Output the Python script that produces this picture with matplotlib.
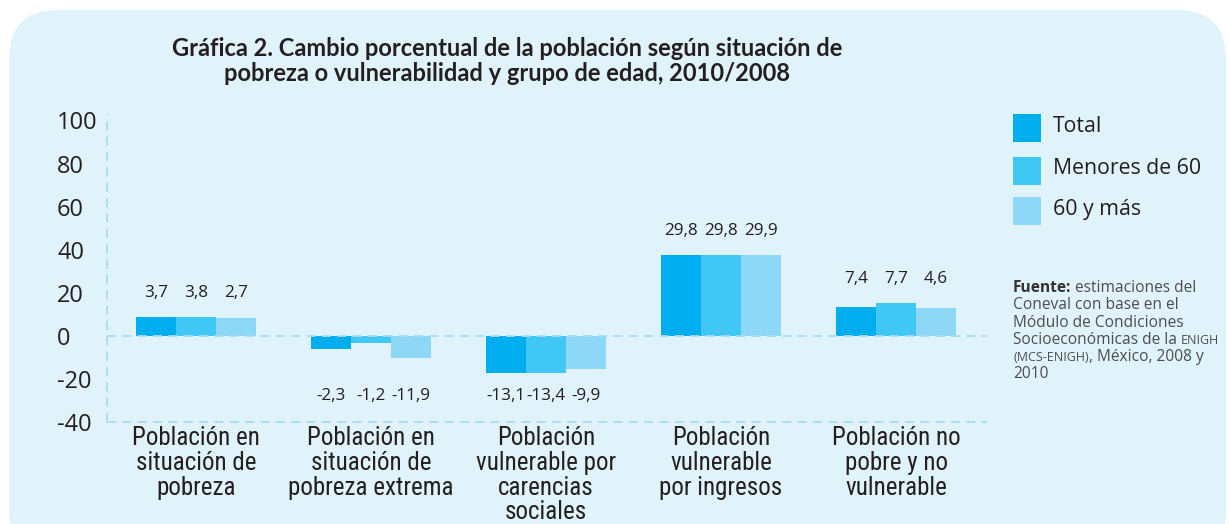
import matplotlib
matplotlib.use("Agg")
import matplotlib.pyplot as plt
from matplotlib.patches import FancyBboxPatch, Rectangle
from matplotlib import font_manager
import matplotlib.transforms as mtransforms
import numpy as np

# ---- data ----
categories = [
    "Población en\nsituación de\npobreza",
    "Población en\nsituación de\npobreza extrema",
    "Población\nvulnerable por\ncarencias\nsociales",
    "Población\nvulnerable\npor ingresos",
    "Población no\npobre y no\nvulnerable",
]
series_names = ["Total", "Menores de 60", "60 y más"]
# bar heights as drawn in the reference
total = [8.8, -5.9, -17.1, 37.7, 13.5]
menores60 = [8.8, -3.1, -17.1, 37.7, 15.3]
mas60 = [8.4, -10.1, -15.3, 37.7, 13.0]
# value labels as printed
labels_total = ["3,7", "-2,3", "-13,1", "29,8", "7,4"]
labels_menores60 = ["3,8", "-1,2", "-13,4", "29,8", "7,7"]
labels_mas60 = ["2,7", "-11,9", "-9,9", "29,9", "4,6"]
yticks = [-40, -20, 0, 20, 40, 60, 80, 100]

title = ("Gráfica 2. Cambio porcentual de la población según situación de\n"
         "pobreza o vulnerabilidad y grupo de edad, 2010/2008")

colors = ["#00AEEF", "#40C7F4", "#8DD7F7"]
bg = "#E0F2FA"
dash_col = "#A6DCF4"
txt = "#231F20"

# condensed font for category labels, if available
cond_family = "DejaVu Sans"
cond_stretch = "normal"
names = {f.name: f for f in font_manager.fontManager.ttflist}
for cand in ["Liberation Sans Narrow", "DejaVu Sans Condensed", "Roboto Condensed"]:
    if cand in names:
        cond_family = cand
        break
else:
    for f in font_manager.fontManager.ttflist:
        if f.name == "DejaVu Sans" and f.stretch in ("condensed", "semi-condensed") or \
           (f.name == "DejaVu Sans" and "Condensed" in f.fname and "Bold" not in f.fname
            and "Oblique" not in f.fname):
            cond_stretch = "condensed"
            break

W, H = 1229, 524
fig = plt.figure(figsize=(W / 100, H / 100), dpi=100)
fig.patch.set_facecolor("white")

def fx(px):
    return px / W

def fy(py):
    return 1 - py / H

# background rounded panel
panel = FancyBboxPatch((fx(9), fy(560)), fx(1217), (560 - 10) / H,
                       boxstyle="round,pad=0,rounding_size=0.04",
                       transform=fig.transFigure, facecolor=bg, edgecolor="none",
                       mutation_aspect=W / H, zorder=-5)
fig.patches.append(panel)

ax_l, ax_r, ax_t, ax_b = 107, 987, 114, 422
ax = fig.add_axes([fx(ax_l), fy(ax_b), fx(ax_r - ax_l), (ax_b - ax_t) / H])
ax.set_facecolor("none")
ax.set_zorder(1)

x = np.arange(len(categories))
bw = 40 / 175
series = [total, menores60, mas60]
labels = [labels_total, labels_menores60, labels_mas60]
for i, (vals, col) in enumerate(zip(series, colors)):
    ax.bar(x + (i - 1) * bw, vals, width=bw, color=col, linewidth=0, zorder=2)

# value labels
for j in range(len(categories)):
    gvals = [s[j] for s in series]
    for i in range(3):
        v = series[i][j]
        if v >= 0:
            ly = max(gvals) + 11
        else:
            ly = min(min(gvals) - 11, -28)
        ax.text(x[j] + (i - 1) * bw, ly, labels[i][j], ha="center", va="center",
                fontsize=12.3, color=txt, family="Open Sans", zorder=4)

ax.set_xlim(-0.509, 4.52)
ax.set_ylim(-40, 103)

# dashed lines
dash = dict(color=dash_col, lw=1.3, dashes=(5, 3.5))
ax.axhline(0, zorder=3, **dash)
ax.axhline(-40, zorder=3, clip_on=False, **dash)
ax.axvline(-0.509, zorder=3, clip_on=False, **dash)

for s in ax.spines.values():
    s.set_visible(False)

ax.set_yticks(yticks)
ax.set_yticklabels([str(t) for t in yticks], family="Open Sans", fontsize=17, color=txt)
shift = mtransforms.ScaledTranslation(0, -2.5 / 72, fig.dpi_scale_trans)
for lab in ax.get_yticklabels():
    lab.set_horizontalalignment("left")
    lab.set_transform(lab.get_transform() + shift)
ax.tick_params(axis="y", length=0, pad=36)

ax.set_xticks(x)
ax.set_xticklabels(categories, family=cond_family, stretch=cond_stretch,
                   fontsize=18, color=txt, linespacing=1.04, va="top")
ax.tick_params(axis="x", length=0, pad=3)

# title
fig.text(fx(507), fy(61), title, ha="center", va="center", fontsize=17,
         fontweight="bold", family="Lato", color=txt, linespacing=1.15)

# legend
leg_y = [114, 157, 197]
for yy, name, col in zip(leg_y, series_names, colors):
    fig.patches.append(Rectangle((fx(1013), fy(yy + 28)), fx(28), 28 / H,
                                 transform=fig.transFigure, facecolor=col,
                                 edgecolor="none", zorder=2))
    fig.text(fx(1053), fy(yy + 12), name, ha="left", va="center", fontsize=15.3,
             family="Open Sans", color=txt)

# source note
fig.canvas.draw()
renderer = fig.canvas.get_renderer()
src_lines = [
    [("Fuente:", "bold", 11.2), (" estimaciones del", "normal", 11.2)],
    [("Coneval con base en el", "normal", 11.2)],
    [("Módulo de Condiciones", "normal", 11.2)],
    [("Socioeconómicas de la ", "normal", 11.2), ("ENIGH", "normal", 9)],
    [("(MCS-ENIGH)", "normal", 9), (", México, 2008 y", "normal", 11.2)],
    [("2010", "normal", 11.2)],
]
y0 = 287
for k, parts in enumerate(src_lines):
    xx = 1013
    yy = y0 + k * 17.3
    for s, wgt, fs in parts:
        t = fig.text(fx(xx), fy(yy + 5), s, ha="left", va="baseline",
                     fontsize=fs, fontweight=wgt, family="Open Sans",
                     color="#333333" if wgt == "bold" else "#4D4D4F")
        bb = t.get_window_extent(renderer)
        xx += bb.width

fig.savefig("out.png", dpi=100, facecolor="white")
